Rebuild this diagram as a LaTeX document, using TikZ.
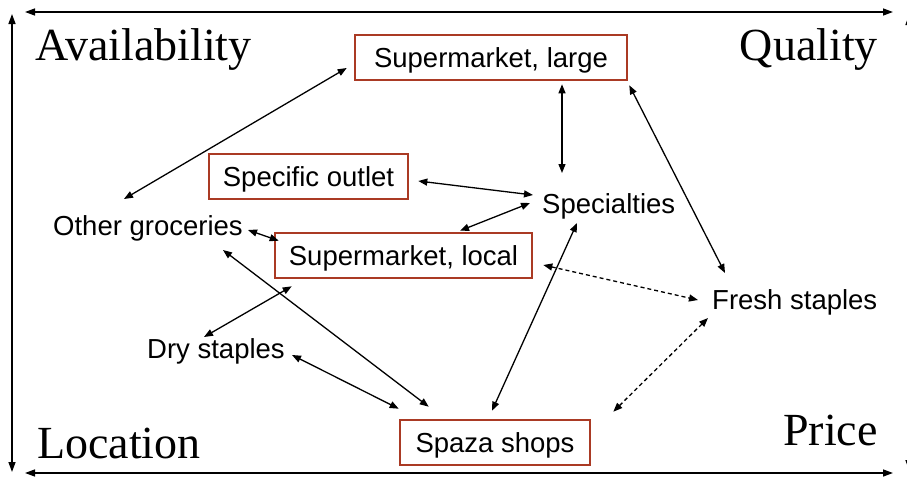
\documentclass[tikz,border=0pt]{standalone}
\usepackage{fontspec}
\setmainfont{Liberation Serif}
\newfontfamily\arialfont{Liberation Sans}
\usetikzlibrary{arrows.meta,calc}
\definecolor{boxred}{RGB}{170,58,36}
\tikzset{
  arr/.style={line width=1.3pt,{Triangle[length=9pt,width=7pt]}-{Triangle[length=9pt,width=7pt]}},
  dasharr/.style={arr,dash pattern=on 4pt off 3pt},
  framearr/.style={line width=1.4pt,{Triangle[length=10pt,width=7pt]}-{Triangle[length=10pt,width=7pt]}},
  sbox/.style={draw=boxred,line width=2.6pt,minimum height=45pt,inner xsep=0pt,inner ysep=0pt,
    text height=20pt,text depth=0pt,font=\arialfont\fontsize{27.5}{30}\selectfont},
  plain/.style={inner sep=0pt,anchor=base west,font=\arialfont\fontsize{27.5}{30}\selectfont},
  axis/.style={inner sep=0pt,font=\fontsize{46}{50}\selectfont}
}
\begin{document}
\begin{tikzpicture}[x=1pt,y=-1pt]
\useasboundingbox (0,0) rectangle (907,477);
% frame
\coordinate (tl) at (25,12); \coordinate (tr) at (893,12);
\coordinate (lt) at (12,14); \coordinate (lb) at (12,472);
\coordinate (bl) at (25,473); \coordinate (br) at (893,473);
\coordinate (rt) at (909,15); \coordinate (rb) at (909,470);
\draw[framearr] (tl) -- (tr);
\draw[framearr] (lt) -- (lb);
\draw[framearr] (bl) -- (br);
\draw[framearr] (rt) -- (rb);
% axis labels
\node[axis,anchor=base west] (avail) at (35,60) {Availability};
\node[axis,anchor=base east] (qual) at (878,60) {Quality};
\node[axis,anchor=base west] (loc) at (37,458) {Location};
\node[axis,anchor=base east] (price) at (878,445) {Price};
% boxes
\node[sbox,minimum width=272pt] (L) at (491,57.5) {Supermarket, large};
\node[sbox,minimum width=199pt] (O) at (308.5,176.5) {Specific outlet};
\node[sbox,minimum width=257pt] (C) at (403.5,255.5) {Supermarket, local};
\node[sbox,minimum width=190pt] (Z) at (495,442.5) {Spaza shops};
% plain texts
\node[plain] (G) at (53,235) {Other groceries};
\node[plain] (S) at (542,213) {Specialties};
\node[plain] (F) at (712,309) {Fresh staples};
\node[plain] (D) at (147,358) {Dry staples};
% connectors
\draw[arr] ($(L.west)+(-7,10.5)$) -- ($(G.base west)+(71,-36)$);
\draw[arr] ($(L.south)+(71,3)$) -- ($(S.base west)+(20,-40)$);
\draw[arr] ($(L.south east)+(1,4)$) -- ($(F.base west)+(13,-36)$);
\draw[arr] ($(O.east)+(9,4.5)$) -- ($(S.base west)+(-9,-18)$);
\draw[arr] ($(S.base west)+(-12,-10)$) -- ($(C.north)+(56.5,-1)$);
\draw[arr] ($(G.base west)+(195,-5)$) -- ($(C.north west)+(5,9)$);
\draw[arr] ($(G.base west)+(170,15)$) -- ($(Z.north west)+(30,-12)$);
\draw[arr] ($(C.south west)+(18,7)$) -- ($(D.base west)+(57,-21)$);
\draw[arr] ($(D.base west)+(145,-3)$) -- ($(Z.north west)+(0,-10)$);
\draw[arr] ($(S.base west)+(35,10)$) -- ($(Z.north)+(-3,-8)$);
\draw[dasharr] ($(C.east)+(10,9.5)$) -- ($(F.base west)+(-14,-9)$);
\draw[dasharr] ($(Z.north east)+(22,-7)$) -- ($(F.base west)+(-4,9)$);
\end{tikzpicture}
\end{document}
